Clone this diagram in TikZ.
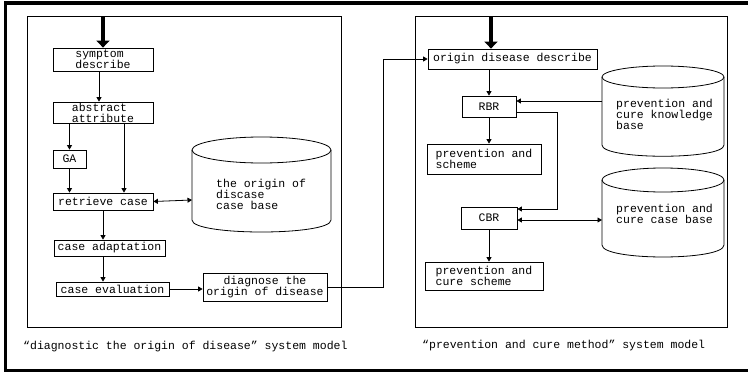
\documentclass[tikz,border=0pt]{standalone}
\usepackage{fontspec}
\setmonofont{Liberation Mono}
\usetikzlibrary{arrows.meta,calc}

\tikzstyle{pixfig}=[x=1pt,y=-1pt,font=\ttfamily\fontsize{11.5}{11}\selectfont]
\tikzstyle{stepbox}=[draw,line width=0.8pt,inner sep=0pt,align=left]
\tikzstyle{arr}=[line width=0.8pt,-{Triangle[width=5pt,length=4.5pt]}]
\tikzstyle{dblarr}=[line width=0.8pt,{Triangle[width=5pt,length=4.5pt]}-{Triangle[width=5pt,length=4.5pt]}]
\tikzstyle{bigarr}=[line width=3.5pt,-{Triangle[width=13pt,length=7pt]}]

\begin{document}
\begin{tikzpicture}[style=pixfig]
\useasboundingbox (0,0) rectangle (748,372);
\draw[line width=3.5pt] (748,3) -- (5.5,3) -- (5.5,370.5) -- (748,370.5);

% two panels
\draw[line width=0.8pt] (27,16) rectangle (341,327);
\draw[line width=0.8pt] (415,16) rectangle (727,327);

% diagnostic side
\node[stepbox,minimum width=100,minimum height=23] (symptom) at (103,59.5) {symptom\\describe};
\node[stepbox,minimum width=100,minimum height=21] (abstract) at (103,112.5) {abstract\\attribute};
\node[stepbox,minimum width=33,minimum height=18] (ga) at (69.5,159) {GA};
\node[stepbox,minimum width=100,minimum height=17] (retrieve) at (103,201.5) {retrieve case};
\node[stepbox,minimum width=111,minimum height=16] (adapt) at (109.5,248) {case adaptation};
\node[stepbox,minimum width=113,minimum height=14] (evaluate) at (112.5,289) {case evaluation};
\node[stepbox,minimum width=124,minimum height=28,align=center] (diagnose) at (265,287) {diagnose the\\origin of disease};

\draw[line width=0.8pt] (261.5,150) ellipse [x radius=69.5, y radius=13];
\draw[line width=0.8pt] (192,150) -- (192,220) .. controls (192,236) and (331,236) .. (331,220) -- (331,150);
\node[inner sep=0pt,anchor=west,align=left] (casetxt) at (216,194) {the origin of\\discase\\case base};
\coordinate (casebase) at (192,200);

\coordinate (inL) at (103,16);
\draw[bigarr] (inL) -- (symptom.north);
\draw[arr] ([xshift=-4]symptom.south) -- ([xshift=-4]abstract.north);
\draw[arr] (ga.north |- abstract.south) -- (ga.north);
\draw[arr] (ga.south) -- (ga.south |- retrieve.north);
\draw[arr] ($(abstract.south)+(21,0)$) -- ($(retrieve.north)+(21,0)$);
\draw[dblarr] (retrieve.east) -- (casebase);
\draw[arr] (retrieve.south) -- (retrieve.south |- adapt.north);
\draw[arr] (retrieve.south |- adapt.south) -- (retrieve.south |- evaluate.north);
\draw[arr] (evaluate.east) -- (evaluate.east -| diagnose.west);

% prevention side
\node[stepbox,minimum width=169,minimum height=20] (origin) at (512.5,59) {origin disease describe};
\node[stepbox,minimum width=54,minimum height=21] (rbr) at (489,106.5) {RBR};
\node[stepbox,minimum width=114,minimum height=30] (pscheme) at (484,159) {prevention and\\scheme};
\node[stepbox,minimum width=56,minimum height=22] (cbr) at (489,218) {CBR};
\node[stepbox,minimum width=118,minimum height=28] (pcscheme) at (484,276) {prevention and\\cure scheme};

\draw[line width=0.8pt] (663,77) ellipse [x radius=61, y radius=11];
\draw[line width=0.8pt] (602,77) -- (602,145) .. controls (602,160) and (724,160) .. (724,145) -- (724,77);
\node[inner sep=0pt,anchor=west,align=left] (knowtxt) at (616,114) {prevention and\\cure knowledge\\base};
\coordinate (knowbase) at (602,101);

\draw[line width=0.8pt] (663,180) ellipse [x radius=61, y radius=12];
\draw[line width=0.8pt] (602,180) -- (602,245) .. controls (602,261) and (724,261) .. (724,245) -- (724,180);
\node[inner sep=0pt,anchor=west,align=left] (curetxt) at (616,214) {prevention and\\cure case base};
\coordinate (curebase) at (602,220);

\draw[arr] (diagnose.east) -- ++(56,0) |- (origin.west);
\coordinate (inR) at (491,16);
\draw[bigarr] (inR) -- (inR |- origin.north);
\draw[arr] (rbr.north |- origin.south) -- (rbr.north);
\draw[arr] (knowbase) -- (knowbase -| rbr.east);
\draw[arr] (rbr.south) -- (rbr.south |- pscheme.north);
\draw[arr] ($(rbr.east)+(0,5.5)$) -- ++(41,0) |- ($(cbr.east)+(0,-9)$);
\draw[dblarr] (curebase -| cbr.east) -- (curebase);
\draw[arr] (cbr.south) -- (cbr.south |- pcscheme.north);

% captions
\node[inner sep=0pt,anchor=west] (capL) at (23,347) {“diagnostic the origin of disease” system model};
\node[inner sep=0pt,anchor=west] (capR) at (422,346) {“prevention and cure method” system model};
\end{tikzpicture}
\end{document}
